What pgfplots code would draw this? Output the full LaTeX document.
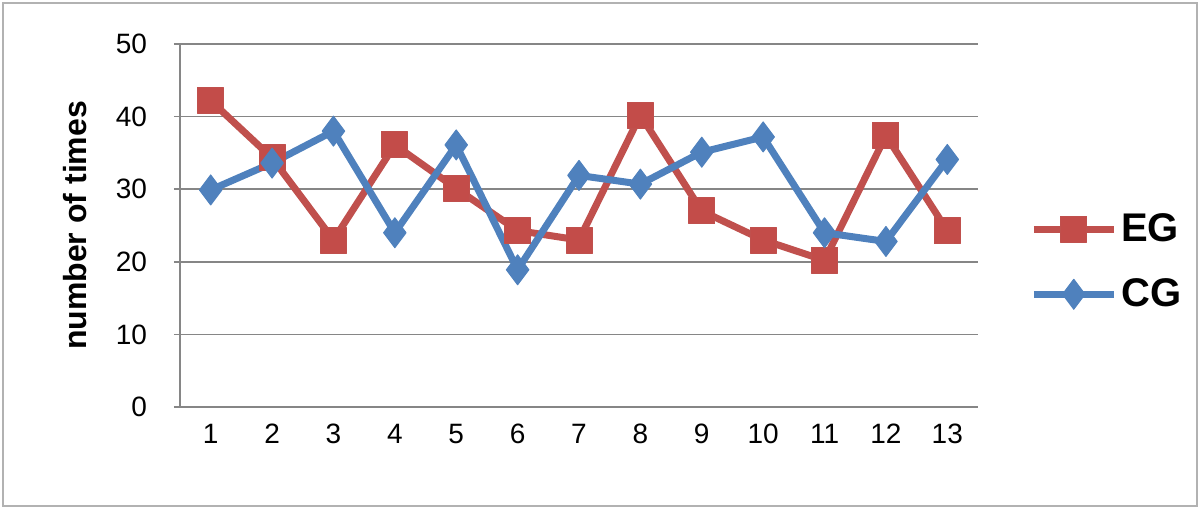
\documentclass[border=0pt]{standalone}
\usepackage{pgfplots}
\pgfplotsset{compat=1.18}
\usepackage{fontspec}
\setmainfont{Liberation Sans}
\definecolor{egred}{HTML}{C0504D}
\definecolor{cgblue}{HTML}{4F81BD}
\definecolor{gridgray}{HTML}{868686}
\begin{document}
\begin{tikzpicture}[x=1pt,y=1pt]
\path[use as bounding box] (-90,-51) rectangle (510,203.5);
\draw[gray!60, line width=1pt] (-88.5,-49.5) rectangle (508.5,202);
\begin{axis}[
  at={(0,0)}, anchor=south west,
  scale only axis, width=399pt, height=181.5pt,
  xmin=0.5, xmax=13.5, ymin=0, ymax=50,
  xtick={1,...,13}, ytick={0,10,...,50},
  axis x line*=bottom, axis y line*=left,
  axis line style={gridgray, line width=0.8pt, -},
  ymajorgrids, grid style={gridgray, line width=0.8pt},
  x tick style={draw=none},
  y tick style={gridgray, line width=0.8pt},
  tick align=outside, major tick length=3pt,
  /pgf/number format/assume math mode=true,
  tick label style={font=\fontsize{14}{14}\selectfont},
  yticklabel style={xshift=-10pt},
  xticklabel style={yshift=-2pt},
  ylabel={number of times},
  every axis y label/.style={at={(axis description cs:0,0.5)}, xshift=-52.5pt, rotate=90, anchor=center, font=\bfseries\fontsize{16}{16}\selectfont},
  clip=false,
  legend style={at={(1.065,0.40)}, anchor=west, draw=none, fill=none, font=\bfseries\fontsize{20}{20}\selectfont, row sep=13pt, inner sep=0pt},
  legend cell align=left,
  legend image code/.code={\draw[mark repeat=2,mark phase=2,#1] plot coordinates {(0pt,0pt) (20pt,0pt) (40pt,0pt)};},
]
\addplot[egred, line width=3.5pt, line join=round, mark=square*, mark size=6.5pt, mark options={line width=0.5pt, fill=egred!95!red, draw=egred}]
coordinates {(1,42.2) (2,34.3) (3,23.0) (4,36.1) (5,30.1) (6,24.3) (7,23.0) (8,40.2) (9,27.0) (10,23.0) (11,20.2) (12,37.4) (13,24.3)};
\addlegendentry{EG}
\addplot[cgblue, line width=3.5pt, line join=round, mark=diamond*, mark size=7.5pt, mark options={line width=0.5pt, fill=cgblue, draw=cgblue}]
coordinates {(1,29.9) (2,33.6) (3,38.0) (4,24.0) (5,36.1) (6,18.9) (7,31.9) (8,30.7) (9,35.1) (10,37.2) (11,24.0) (12,22.8) (13,34.1)};
\addlegendentry{CG}
\end{axis}
\end{tikzpicture}
\end{document}
